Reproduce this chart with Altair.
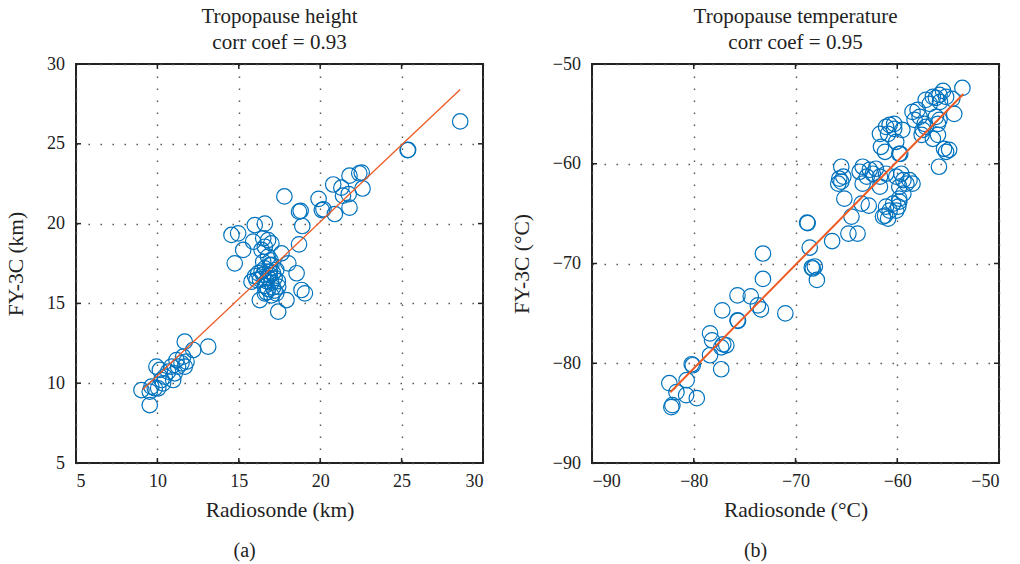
import altair as alt
import pandas as pd

# ---------------- data: tropopause height (km) ----------------
h_radio = [28.6, 25.37, 25.4, 22.55, 22.4, 21.8, 20.8, 21.3, 22.6, 21.75, 21.4, 19.9, 17.8,
           21.8, 20.9, 20.2, 20.1, 18.8, 18.7, 18.9, 18.7,
           14.96, 15.98, 16.6, 14.55, 15.88, 16.5, 16.8, 17.0, 16.6, 16.4, 15.27, 14.75,
           17.62, 18.04, 16.8, 18.55, 15.78, 18.85, 19.06, 16.29, 17.42, 17.93,
           16.6, 16.9, 16.5, 16.8, 17.1, 16.4, 16.7, 17.0, 16.3, 16.9, 16.6, 17.2, 16.2,
           16.8, 17.1, 16.5, 16.95, 17.3, 16.0, 17.4, 16.7, 17.2, 17.0, 16.9, 16.09, 17.42,
           16.6, 17.0, 17.3,
           13.12, 11.68, 12.2, 11.58, 11.79, 11.48, 11.17, 11.27, 11.68, 10.86, 10.66, 11.07,
           10.45, 10.97, 10.25, 9.94, 10.15, 9.84, 9.63, 9.53, 9.02, 9.53, 10.05, 10.35]
h_fy = [26.4, 24.6, 24.62, 23.2, 23.15, 23.0, 22.45, 22.25, 22.2, 21.85, 21.75, 21.55, 21.7,
        21.0, 20.6, 20.9, 20.85, 20.8, 20.75, 19.85, 18.7,
        19.39, 19.91, 20.0, 19.29, 18.87, 19.08, 18.97, 18.76, 18.55, 18.35, 18.35, 17.51,
        18.14, 17.51, 17.93, 16.89, 16.36, 15.84, 15.63, 15.21, 14.48, 15.21,
        17.2, 17.0, 16.8, 16.6, 16.9, 17.0, 16.4, 16.3, 16.5, 17.4, 16.1, 16.6, 16.9,
        15.9, 16.0, 17.6, 17.7, 17.1, 16.7, 16.4, 15.7, 15.8, 17.41, 16.78, 16.47, 16.05,
        15.63, 15.5, 15.63,
        12.29, 12.6, 12.08, 11.66, 11.35, 11.25, 11.45, 11.04, 11.04, 11.04, 10.72, 10.62,
        10.41, 10.2, 10.2, 11.04, 10.83, 9.68, 9.78, 9.47, 9.57, 8.63, 9.68, 9.99]
h_fit_x = [9.1, 28.6]
h_fit_y = [9.6, 28.4]
h_ticks = [5, 10, 15, 20, 25, 30]

# ---------------- data: tropopause temperature (°C) ----------------
t_radio = [-53.6, -55.5, -55.2, -54.6, -55.85, -56.2, -56.5, -57.2, -56.8, -55.8, -54.4,
           -58.5, -58.0, -57.8, -58.3, -56.2, -55.85, -56.0, -57.3, -57.5, -57.6, -56.5,
           -56.0, -57.2, -55.4, -54.9, -55.2, -55.9,
           -61.1, -60.75, -60.3, -61.7, -60.9, -60.3, -60.1, -61.2, -59.8, -59.7, -59.5, -61.6,
           -65.5, -65.7, -65.3, -65.5, -65.8, -65.2, -64.5, -63.9, -64.8, -66.4,
           -63.4, -62.7, -62.4, -63.7, -63.0, -62.1, -61.7, -63.5, -62.8, -63.4, -61.7,
           -61.1, -60.75, -61.2, -61.4, -60.4, -59.8, -59.4, -60.1, -59.4, -58.8, -58.5,
           -59.8, -59.1, -59.6, -61.1, -59.8, -59.9, -60.1, -60.9,
           -68.86, -68.8, -68.6, -68.4, -68.3, -68.1, -67.9, -73.2, -73.2, -75.7, -74.4,
           -73.7, -73.4, -71.0, -77.2, -75.7, -75.65, -78.4, -78.2, -77.1, -76.8, -77.3,
           -78.4, -77.3, -80.2, -80.1, -80.7, -82.4, -81.7, -80.75, -79.7, -82.2, -82.1]
t_fy = [-52.4, -52.7, -53.3, -53.5, -53.1, -53.4, -53.3, -53.6, -54.0, -53.8, -55.0,
        -54.8, -54.6, -55.3, -55.6, -55.3, -55.6, -56.0, -56.0, -56.6, -57.1, -57.5,
        -57.1, -56.3, -58.5, -58.6, -58.8, -60.3,
        -56.3, -56.1, -56.0, -57.0, -57.0, -56.5, -57.8, -58.8, -59.0, -59.0, -56.6, -58.3,
        -60.3, -61.5, -61.3, -61.8, -62.0, -63.5, -65.3, -67.0, -67.0, -67.75,
        -60.3, -60.6, -61.0, -60.8, -61.3, -60.5, -61.3, -64.0, -64.2, -62.0, -62.3,
        -64.3, -64.7, -65.2, -65.3, -64.0, -63.5, -63.0, -61.3, -61.65, -61.65, -62.0,
        -62.3, -62.0, -61.0, -61.0, -63.8, -64.3, -64.7, -65.5,
        -65.9, -65.95, -68.4, -70.4, -70.5, -70.3, -71.65, -69.0, -71.55, -73.2, -73.3,
        -74.2, -74.6, -75.0, -74.7, -75.7, -75.75, -77.0, -77.7, -78.1, -78.2, -78.4,
        -79.2, -80.6, -80.1, -80.2, -81.7, -82.0, -82.9, -83.2, -83.5, -84.4, -84.2]
t_fit_x = [-82.3, -53.5]
t_fit_y = [-82.9, -53.0]
t_ticks = [-90, -80, -70, -60, -50]

W, H = 407, 399
FONT = "Liberation Serif"
INK = "#222222"


def panel(xs, ys, fx, fy, ticks, xtitle, ytitle, title_lines, caption, lw):
    pts = pd.DataFrame({"x": xs, "y": ys})
    fit = pd.DataFrame({"x": fx, "y": fy})
    tkx = pd.DataFrame({"x": ticks})
    tky = pd.DataFrame({"y": ticks})
    dom = [ticks[0], ticks[-1]]
    sx = alt.Scale(domain=dom, nice=False, zero=False)
    sy = alt.Scale(domain=dom, nice=False, zero=False)
    common = dict(values=ticks, grid=True, gridDash=[1.5, 10.5], gridColor="#555555",
                  gridWidth=1.4, tickSize=0, domain=False, labelFont=FONT,
                  labelFontSize=18, labelColor=INK, titleFont=FONT, titleFontSize=21.5,
                  titleFontWeight="normal", titleColor=INK)
    X = alt.X("x:Q", scale=sx, axis=alt.Axis(title=xtitle, titlePadding=9,
                                              labelPadding=9.5, **common))
    Y = alt.Y("y:Q", scale=sy, axis=alt.Axis(title=ytitle, titlePadding=19,
                                              labelPadding=11.5, **common))
    points = alt.Chart(pts).mark_point(
        shape="circle", size=240, filled=False, color="#0072BD", strokeWidth=1.2, opacity=1
    ).encode(x=X, y=Y)
    line = alt.Chart(fit).mark_line(color="#EE5A24", strokeWidth=lw).encode(x=X, y=Y)
    rule = dict(color=INK, strokeWidth=1.5)
    top = alt.Chart(tkx).mark_rule(**rule).encode(x=X, y=alt.value(0), y2=alt.value(5))
    bottom = alt.Chart(tkx).mark_rule(**rule).encode(x=X, y=alt.value(H), y2=alt.value(H - 5))
    left = alt.Chart(tky).mark_rule(**rule).encode(y=Y, x=alt.value(0), x2=alt.value(5))
    right = alt.Chart(tky).mark_rule(**rule).encode(y=Y, x=alt.value(W - 5), x2=alt.value(W))
    layer = alt.layer(points, line, top, bottom, left, right).properties(
        width=W, height=H,
        title=alt.TitleParams(title_lines, font=FONT, fontSize=21, fontWeight="normal",
                              color=INK, lineHeight=26, offset=2, anchor="middle"),
    )
    return alt.vconcat(layer, title=alt.TitleParams(
        caption, orient="bottom", anchor="middle", font=FONT, fontSize=20,
        fontWeight="normal", color=INK, offset=19))


pa = panel(h_radio, h_fy, h_fit_x, h_fit_y, h_ticks, "Radiosonde (km)", "FY-3C (km)",
           ["Tropopause height", "corr coef = 0.93"], "(a)", 1.3)
pb = panel(t_radio, t_fy, t_fit_x, t_fit_y, t_ticks, "Radiosonde (°C)", "FY-3C (°C)",
           ["Tropopause temperature", "corr coef = 0.95"], "(b)", 2.0)

chart = alt.hconcat(pa, pb, spacing=25).configure_view(
    stroke=INK, strokeWidth=2
).properties(padding={"left": 4, "top": 5, "right": 5, "bottom": 5})

chart.save("out.html", embed_options={"renderer": "svg", "actions": False})
